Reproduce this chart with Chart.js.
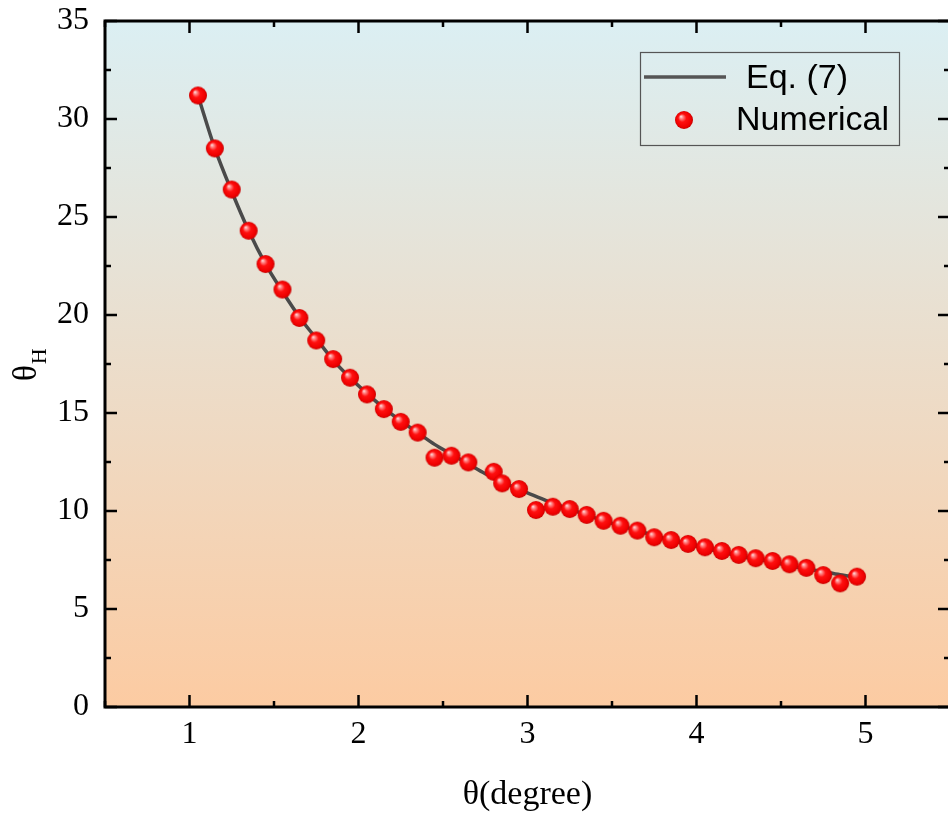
<!DOCTYPE html>
<html>
<head>
<meta charset="utf-8">
<script src="https://cdn.jsdelivr.net/npm/chart.js@4.4.1/dist/chart.umd.min.js"></script>
<style>
  html, body { margin: 0; padding: 0; overflow: hidden; background: #fff; }
  #chart { display: block; }
</style>
</head>
<body>
<canvas id="chart" width="960" height="816"></canvas>
<script>
// numerical points
const num_x = [1.05, 1.15, 1.25, 1.35, 1.45, 1.55, 1.65, 1.75, 1.85, 1.95,
               2.05, 2.15, 2.25, 2.35, 2.45, 2.55, 2.65, 2.80, 2.85, 2.95,
               3.05, 3.15, 3.25, 3.35, 3.45, 3.55, 3.65, 3.75, 3.85, 3.95,
               4.05, 4.15, 4.25, 4.35, 4.45, 4.55, 4.65, 4.75, 4.85, 4.95];
const num_y = [31.2, 28.5, 26.4, 24.3, 22.6, 21.3, 19.85, 18.7, 17.75, 16.8,
               15.95, 15.2, 14.55, 14.0, 12.72, 12.82, 12.48, 12.0, 11.41, 11.12,
               10.05, 10.22, 10.1, 9.8, 9.5, 9.25, 9.0, 8.66, 8.52, 8.32,
               8.15, 7.96, 7.76, 7.59, 7.45, 7.28, 7.1, 6.73, 6.31, 6.65];

// Eq. (7) curve
const eq_x = [1.05, 1.15, 1.25, 1.35, 1.45, 1.55, 1.65, 1.75, 1.85, 1.95,
              2.05, 2.15, 2.25, 2.35, 2.45, 2.55, 2.65, 2.75, 2.85, 2.95,
              3.05, 3.15, 3.25, 3.35, 3.45, 3.55, 3.65, 3.75, 3.85, 3.95,
              4.05, 4.15, 4.25, 4.35, 4.45, 4.55, 4.65, 4.75, 4.85, 4.95];
const eq_y = [31.2, 28.5, 26.3, 24.3, 22.6, 21.2, 19.9, 18.8, 17.7, 16.8,
              16.0, 15.25, 14.6, 14.0, 13.4, 12.9, 12.4, 11.9, 11.5, 11.1,
              10.75, 10.4, 10.1, 9.8, 9.5, 9.25, 9.0, 8.75, 8.5, 8.3,
              8.1, 7.9, 7.7, 7.55, 7.4, 7.2, 7.05, 6.9, 6.75, 6.62];

const x_major = [1, 2, 3, 4, 5];
const x_minor = [0.5, 1.5, 2.5, 3.5, 4.5, 5.5];
const y_major = [0, 5, 10, 15, 20, 25, 30, 35];
const y_minor = [2.5, 7.5, 12.5, 17.5, 22.5, 27.5, 32.5];

const SERIF = '"Liberation Serif", "Times New Roman", serif';
const SANS = '"Liberation Sans", Arial, sans-serif';

// red glossy ball used as marker
function makeBall(r) {
    const c = document.createElement('canvas');
    c.width = c.height = r * 2 + 2;
    const g = c.getContext('2d');
    const cx = r + 1, cy = r + 1;
    const grad = g.createRadialGradient(cx - r * 0.35, cy - r * 0.4, 0, cx, cy, r);
    grad.addColorStop(0, '#ffeaea');
    grad.addColorStop(0.18, '#ff8a8a');
    grad.addColorStop(0.45, '#ff1010');
    grad.addColorStop(0.85, '#ee0000');
    grad.addColorStop(1, '#c40000');
    g.fillStyle = grad;
    g.beginPath();
    g.arc(cx, cy, r, 0, Math.PI * 2);
    g.fill();
    return c;
}
const ball = makeBall(9);

const framePlugin = {
    id: 'frame',
    beforeDatasetsDraw(chart) {
        const { ctx, chartArea: a } = chart;
        const grad = ctx.createLinearGradient(0, a.top, 0, a.bottom);
        grad.addColorStop(0, '#dbeff3');
        grad.addColorStop(1, '#fccba2');
        ctx.save();
        ctx.fillStyle = grad;
        ctx.fillRect(a.left, a.top, a.right - a.left, a.bottom - a.top);
        ctx.restore();
    },
    afterDraw(chart) {
        const { ctx, chartArea: a, scales } = chart;
        const xs = scales.x, ys = scales.y;
        ctx.save();
        ctx.strokeStyle = '#000';
        ctx.lineWidth = 2.5;
        ctx.lineCap = 'butt';
        ctx.beginPath();
        const tick = (vals, len) => {
            vals.forEach(v => {
                const px = xs.getPixelForValue(v);
                ctx.moveTo(px, a.bottom); ctx.lineTo(px, a.bottom - len);
                ctx.moveTo(px, a.top); ctx.lineTo(px, a.top + len);
            });
        };
        const tickY = (vals, len) => {
            vals.forEach(v => {
                const py = ys.getPixelForValue(v);
                ctx.moveTo(a.left, py); ctx.lineTo(a.left + len, py);
                ctx.moveTo(a.right, py); ctx.lineTo(a.right - len, py);
            });
        };
        tick(x_major, 12); tick(x_minor, 6);
        tickY(y_major, 12); tickY(y_minor, 6);
        ctx.stroke();
        ctx.lineWidth = 3;
        ctx.strokeRect(a.left, a.top, a.right - a.left, a.bottom - a.top);

        // legend
        ctx.lineWidth = 1.2;
        ctx.strokeStyle = '#555';
        ctx.strokeRect(640.5, 52.5, 259, 93);
        ctx.lineWidth = 3.5;
        ctx.beginPath();
        ctx.moveTo(644, 77); ctx.lineTo(726, 77);
        ctx.stroke();
        ctx.drawImage(ball, 684 - ball.width / 2, 120 - ball.height / 2);
        ctx.fillStyle = '#000';
        ctx.font = '34px ' + SANS;
        ctx.textBaseline = 'middle';
        ctx.textAlign = 'left';
        ctx.fillText('Eq. (7)', 746, 79);
        ctx.fillText('Numerical', 736, 121);

        // axis titles
        ctx.font = '34px ' + SERIF;
        ctx.textAlign = 'center';
        ctx.fillText('θ(degree)', (a.left + a.right) / 2, 795);

        ctx.translate(36, 381);
        ctx.rotate(-Math.PI / 2);
        ctx.textAlign = 'left';
        ctx.textBaseline = 'alphabetic';
        ctx.font = '33px ' + SERIF;
        ctx.fillText('θ', 0, 0);
        const w = ctx.measureText('θ').width;
        ctx.font = '22px ' + SERIF;
        ctx.fillText('H', w + 1, 10);
        ctx.restore();
    }
};

new Chart(document.getElementById('chart'), {
    type: 'scatter',
    data: {
        datasets: [{
            label: 'Numerical',
            data: num_x.map((x, i) => ({ x: x, y: num_y[i] })),
            pointStyle: ball,
            pointRadius: 9,
            order: 0
        }, {
            label: 'Eq. (7)',
            data: eq_x.map((x, i) => ({ x: x, y: eq_y[i] })),
            showLine: true,
            borderColor: '#4a4a4a',
            borderWidth: 3.5,
            pointRadius: 0,
            cubicInterpolationMode: 'monotone',
            order: 1
        }]
    },
    options: {
        responsive: false,
        animation: false,
        layout: { padding: { top: 21, right: 4, left: 0, bottom: 0 } },
        scales: {
            x: {
                type: 'linear',
                min: 0.5,
                max: 5.5,
                afterBuildTicks: s => { s.ticks = x_major.map(v => ({ value: v })); },
                afterFit: s => { s.height = 109; s.paddingLeft = 0; s.paddingRight = 0; },
                ticks: { color: '#000', font: { family: SERIF, size: 32, lineHeight: 1 }, padding: 4 },
                grid: { display: false },
                border: { display: false }
            },
            y: {
                min: 0,
                max: 35,
                afterBuildTicks: s => { s.ticks = y_major.map(v => ({ value: v })); },
                afterFit: s => { s.width = 105; s.paddingTop = 0; s.paddingBottom = 0; },
                ticks: { color: '#000', font: { family: SERIF, size: 32, lineHeight: 1 }, padding: 8 },
                grid: { display: false },
                border: { display: false }
            }
        },
        plugins: {
            legend: { display: false },
            tooltip: { enabled: false }
        }
    },
    plugins: [framePlugin]
});
</script>
</body>
</html>
